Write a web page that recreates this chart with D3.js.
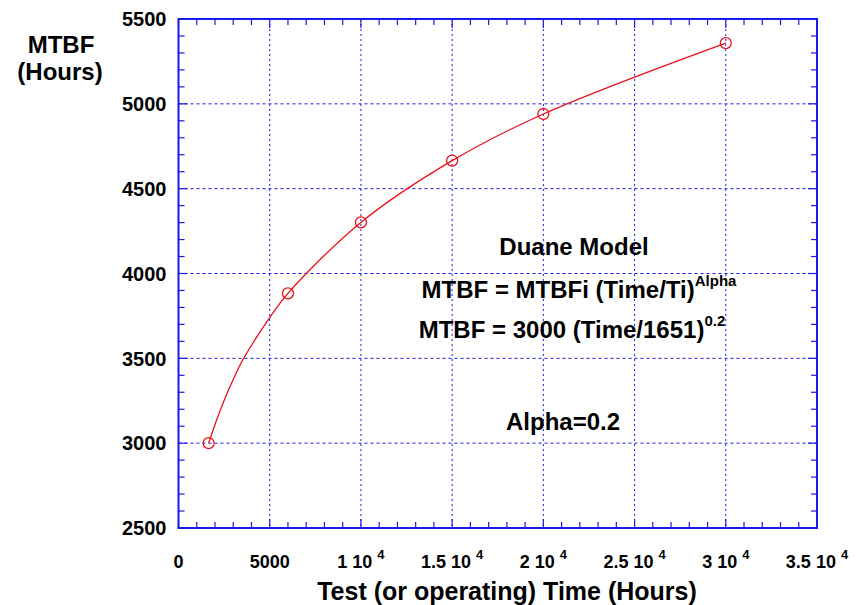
<!DOCTYPE html>
<html>
<head>
<meta charset="utf-8">
<script src="https://cdn.jsdelivr.net/npm/d3@7"></script>
<style>
  body { margin: 0; background: #fff; }
  text { font-family: "Liberation Sans", Arial, sans-serif; font-weight: bold; fill: #000; }
</style>
</head>
<body>
<div class="chart"></div>
<script>
// data
var testHours = [1651, 6000, 10000, 15000, 20000, 30000];
var mtbfHours = [3000, 3883, 4301, 4665, 4940, 5358];

// the red model line, read at a few extra places where it bends most
var curveHours = [1651, 2100, 2550, 3000, 3520, 5000, 6000, 10000, 15000, 20000, 30000];
var curveMtbf = [3000, 3140, 3265, 3375, 3490, 3740, 3883, 4301, 4665, 4940, 5358];

var xTicks = [0, 5000, 10000, 15000, 20000, 25000, 30000, 35000];
var xTickMantissa = ["0", "5000", "1", "1.5", "2", "2.5", "3", "3.5"];
var xTickExp = ["", "", "4", "4", "4", "4", "4", "4"];
var yTicks = [2500, 3000, 3500, 4000, 4500, 5000, 5500];

var points = testHours.map((t, i) => ({ t: t, m: mtbfHours[i] }));
var curvePoints = curveHours.map((t, i) => ({ t: t, m: curveMtbf[i] }));

var width = 858, height = 605;
var margins = { top: 19, right: 41, bottom: 77, left: 178.5 };
var chartWidth = width - margins.left - margins.right;
var chartHeight = height - margins.top - margins.bottom;

var blue = "#1a1ae6";
var red = "#e8101a";

var svg = d3.select("div.chart")
  .append("svg")
  .attr("width", width)
  .attr("height", height);

var chart = svg.append("g")
  .attr("transform", `translate(${margins.left},${margins.top})`);

var xScale = d3.scaleLinear().domain([0, 35000]).range([0, chartWidth]);
var yScale = d3.scaleLinear().domain([2500, 5500]).range([chartHeight, 0]);

// grid
chart.append("g")
  .attr("class", "x grid")
  .selectAll("line")
  .data(xTicks.slice(1, -1))
  .enter()
  .append("line")
  .attr("x1", d => xScale(d)).attr("x2", d => xScale(d))
  .attr("y1", 0).attr("y2", chartHeight)
  .attr("stroke", blue)
  .attr("stroke-width", 1)
  .attr("stroke-dasharray", "2,3");

chart.append("g")
  .attr("class", "y grid")
  .selectAll("line")
  .data(yTicks.slice(1, -1))
  .enter()
  .append("line")
  .attr("x1", 0).attr("x2", chartWidth)
  .attr("y1", d => yScale(d)).attr("y2", d => yScale(d))
  .attr("stroke", blue)
  .attr("stroke-width", 1)
  .attr("stroke-dasharray", "3,3");

// inner ticks on all four sides
var xMinor = d3.range(0, 35001, 1000);
var yMinor = d3.range(2500, 5501, 100);

var tickG = chart.append("g").attr("class", "ticks")
  .attr("stroke", blue).attr("stroke-width", 1.2);

xMinor.forEach(function(v) {
  var len = v % 5000 === 0 ? 9 : 6;
  tickG.append("line")
    .attr("x1", xScale(v)).attr("x2", xScale(v))
    .attr("y1", chartHeight).attr("y2", chartHeight - len);
  tickG.append("line")
    .attr("x1", xScale(v)).attr("x2", xScale(v))
    .attr("y1", 0).attr("y2", len);
});

yMinor.forEach(function(v) {
  var len = v % 500 === 0 ? 9 : 6;
  tickG.append("line")
    .attr("x1", 0).attr("x2", len)
    .attr("y1", yScale(v)).attr("y2", yScale(v));
  tickG.append("line")
    .attr("x1", chartWidth).attr("x2", chartWidth - len)
    .attr("y1", yScale(v)).attr("y2", yScale(v));
});

// frame
chart.append("rect")
  .attr("x", 0).attr("y", 0)
  .attr("width", chartWidth).attr("height", chartHeight)
  .attr("fill", "none")
  .attr("stroke", blue)
  .attr("stroke-width", 2);

// tick labels
chart.append("g")
  .attr("class", "y labels")
  .selectAll("text")
  .data(yTicks)
  .enter()
  .append("text")
  .attr("x", -12)
  .attr("y", d => yScale(d))
  .attr("dy", "0.36em")
  .attr("text-anchor", "end")
  .style("font-size", "20px")
  .text(d => d);

var xLabels = chart.append("g")
  .attr("class", "x labels")
  .selectAll("text")
  .data(xTicks)
  .enter()
  .append("text")
  .attr("x", d => xScale(d))
  .attr("y", chartHeight + 40)
  .attr("text-anchor", "middle")
  .style("font-size", "18px");

xLabels.append("tspan")
  .text((d, i) => xTickExp[i] ? xTickMantissa[i] + " 10 " : xTickMantissa[i]);
xLabels.append("tspan")
  .attr("dy", -9)
  .style("font-size", "13px")
  .text((d, i) => xTickExp[i]);

// model curve and points
var line = d3.line()
  .x(d => xScale(d.t))
  .y(d => yScale(d.m))
  .curve(d3.curveCatmullRom.alpha(0.5));

chart.append("path")
  .datum(curvePoints)
  .attr("d", line)
  .attr("fill", "none")
  .attr("stroke", red)
  .attr("stroke-width", 1.3);

chart.append("g")
  .selectAll("circle")
  .data(points)
  .enter()
  .append("circle")
  .attr("cx", d => xScale(d.t))
  .attr("cy", d => yScale(d.m))
  .attr("r", 5.5)
  .attr("fill", "none")
  .attr("stroke", red)
  .attr("stroke-width", 1.3);

// axis titles
var yTitle = svg.append("text")
  .attr("text-anchor", "middle")
  .style("font-size", "24px");
yTitle.append("tspan").attr("x", 61).attr("y", 53).text("MTBF");
yTitle.append("tspan").attr("x", 60).attr("y", 80).text("(Hours)");

svg.append("text")
  .attr("x", 507)
  .attr("y", 600)
  .attr("text-anchor", "middle")
  .style("font-size", "25px")
  .text("Test (or operating) Time (Hours)");

// annotations
svg.append("text")
  .attr("x", 574).attr("y", 255)
  .attr("text-anchor", "middle")
  .style("font-size", "24px")
  .text("Duane Model");

var f1 = svg.append("text")
  .attr("x", 579).attr("y", 298)
  .attr("text-anchor", "middle")
  .style("font-size", "24px");
f1.append("tspan").text("MTBF = MTBFi (Time/Ti)");
f1.append("tspan").attr("dy", -12).style("font-size", "15px").text("Alpha");

var f2 = svg.append("text")
  .attr("x", 572).attr("y", 338)
  .attr("text-anchor", "middle")
  .style("font-size", "24px");
f2.append("tspan").text("MTBF = 3000 (Time/1651)");
f2.append("tspan").attr("dy", -12).style("font-size", "15px").text("0.2");

svg.append("text")
  .attr("x", 563).attr("y", 430)
  .attr("text-anchor", "middle")
  .style("font-size", "24px")
  .text("Alpha=0.2");
</script>
</body>
</html>
